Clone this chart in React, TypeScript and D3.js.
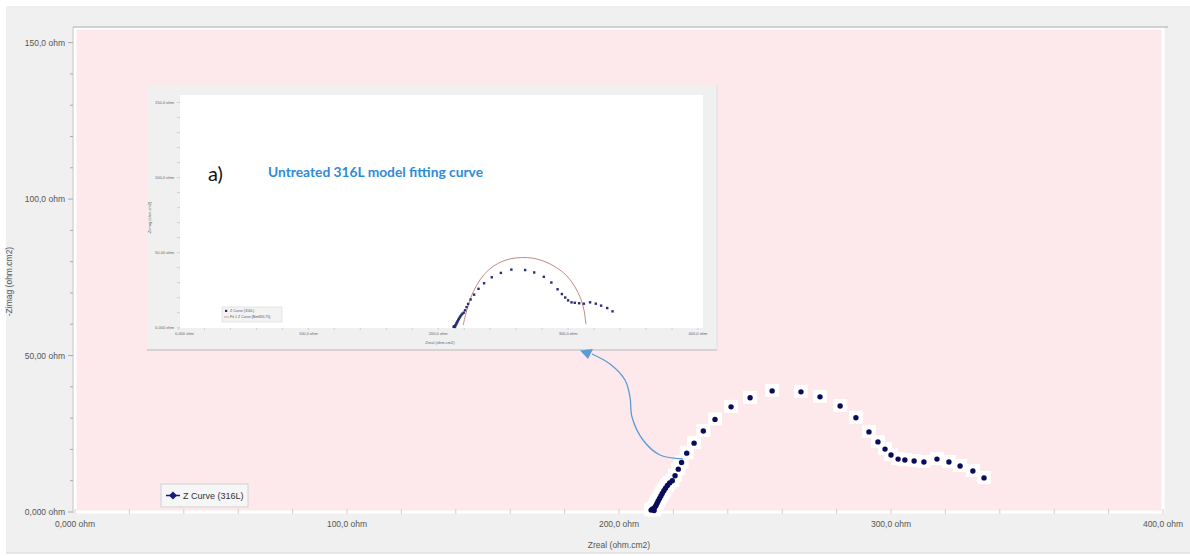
import React from 'react';
import * as d3 from 'd3';

// Z Curve (316L)
const zReal = [211.8, 212.3, 212.9, 213.2, 213.6, 214.0, 214.4, 214.9, 215.4, 215.9, 216.5, 217.1, 217.8, 218.6, 219.6,
    220.6, 221.8, 223.0, 224.9, 227.6, 231.0, 235.3, 241.2, 248.2, 256.3, 266.9, 273.9, 281.3, 287.1, 291.9, 295.2,
    297.8, 300.0, 302.6, 305.1, 308.5, 312.1, 316.9, 321.3, 325.4, 330.1, 334.2];
const zImag = [0.6, 1.0, 0.5, 1.5, 2.1, 2.8, 3.5, 4.3, 5.1, 5.9, 6.8, 7.6, 8.5, 9.3, 10.0,
    11.6, 13.7, 15.8, 18.8, 22.0, 25.9, 29.6, 33.6, 36.5, 38.7, 38.4, 36.8, 33.9, 30.1, 25.6, 22.4,
    20.1, 18.2, 16.9, 16.6, 16.3, 16.0, 16.9, 16.0, 14.7, 13.1, 10.9];

// Fit 1 Z Curve
const fitReal = [219.2, 221.0, 223.6, 227.0, 232.1, 238.5, 246.2, 255.2, 264.2, 273.1, 282.2, 291.1, 298.8, 305.2, 309.6, 312.2, 313.7];
const fitImag = [1.8, 8.5, 16.3, 24.0, 31.8, 38.3, 42.9, 45.8, 46.7, 46.3, 44.0, 40.0, 34.7, 27.3, 19.6, 11.8, 2.3];

const xTicks = [0, 100, 200, 300, 400];
const xTickLabels = ['0,000 ohm', '100,0 ohm', '200,0 ohm', '300,0 ohm', '400,0 ohm'];
const yTicks = [0, 50, 100, 150];
const yTickLabels = ['0,000 ohm', '50,00 ohm', '100,0 ohm', '150,0 ohm'];

const points = zReal.map((x, i) => ({ x, y: zImag[i] }));
const fit = fitReal.map((x, i) => ({ x, y: fitImag[i] }));

const FONT = '"Liberation Sans", Arial, sans-serif';

const App: React.FC = () => {
    // main chart scales
    const x = d3.scaleLinear().domain([0, 400]).range([75, 1163]);
    const y = d3.scaleLinear().domain([0, 155]).range([512, 27]);
    // inset scales
    const ix = d3.scaleLinear().domain([0, 400]).range([178.5, 698]);
    const iy = d3.scaleLinear().domain([0, 155]).range([327.7, 95]);

    const minorX = d3.range(0, 401, 20);
    const minorY = d3.range(0, 151, 10);

    const fitLine = d3.line<{ x: number; y: number }>()
        .x((d) => ix(d.x))
        .y((d) => iy(d.y))
        .curve(d3.curveCatmullRom);

    // annotation arrow: from a data point up to the inset
    const arrowStart: [number, number] = [x(223.6), y(17)];
    const arrowPts: [number, number][] = [
        arrowStart,
        [660, 455],
        [643, 440],
        [632, 417],
        [630, 397],
        [625, 380],
        [610, 364],
        [592, 354],
    ];
    const arrowPath = d3.line().curve(d3.curveCatmullRom)(arrowPts) || '';

    return (
        <svg width={1190} height={556} style={{ position: 'absolute', left: 0, top: 0, background: '#fff' }}>
            <rect x={6} y={6} width={1190} height={547} fill="#f0f0f0" />
            <line x1={6} x2={1190} y1={553} y2={553} stroke="#d4d4d4" />

            {/* plot area */}
            <rect x={75} y={28} width={1088} height={484} fill="#fde9eb" stroke="#fff" strokeWidth={3} />
            <line x1={73} x2={1168} y1={27} y2={27} stroke="#a8a8a8" strokeWidth={1} />
            <line x1={73} x2={73} y1={27} y2={513} stroke="#c8c8c8" strokeWidth={1} />

            {/* y axis */}
            {minorY.map((v) => (
                <line key={'my' + v} x1={v % 50 === 0 ? 68 : 70} x2={73} y1={y(v)} y2={y(v)} stroke="#aaa" />
            ))}
            {yTicks.map((v, i) => (
                <text key={'yl' + v} x={65} y={y(v) + 3} textAnchor="end" fontFamily={FONT} fontSize={8.5} fill="#555">
                    {yTickLabels[i]}
                </text>
            ))}
            <text transform={`translate(12,${(27 + 512) / 2 + 12}) rotate(-90)`} textAnchor="middle" fontFamily={FONT} fontSize={8.5} fill="#555">
                -Zimag (ohm.cm2)
            </text>

            {/* x axis */}
            {minorX.map((v) => (
                <line key={'mx' + v} x1={x(v)} x2={x(v)} y1={509} y2={514} stroke="#d0d0d0" />
            ))}
            {xTicks.map((v, i) => (
                <text key={'xl' + v} x={x(v)} y={527} textAnchor="middle" fontFamily={FONT} fontSize={8.5} fill="#555">
                    {xTickLabels[i]}
                </text>
            ))}
            <text x={(75 + 1163) / 2} y={548} textAnchor="middle" fontFamily={FONT} fontSize={8.5} fill="#555">
                Zreal (ohm.cm2)
            </text>

            {/* white halos around the points */}
            {points.map((d, i) => (
                <rect key={'h' + i} x={x(d.x) - 7} y={y(d.y) - 7} width={14} height={13} fill="#fff" />
            ))}
            {points.map((d, i) => (
                <circle key={'p' + i} cx={x(d.x)} cy={y(d.y)} r={2.7} fill="#0c0c5c" />
            ))}

            {/* legend */}
            <rect x={161} y={484} width={87} height={23} fill="#f6f6f6" stroke="#d2d2d2" />
            <line x1={166} x2={180} y1={495.5} y2={495.5} stroke="#1a1a7a" strokeWidth={1.5} />
            <path d="M173,491.5 L177,495.5 L173,499.5 L169,495.5 Z" fill="#1a1a7a" />
            <text x={183} y={499} fontFamily={FONT} fontSize={9} fill="#333">Z Curve (316L)</text>

            {/* inset */}
            <rect x={147} y={86} width={570} height={264} fill="#f0f0f0" />
            <line x1={147} x2={717} y1={350} y2={350} stroke="#b8b8b8" />
            <line x1={717} x2={717} y1={86} y2={350} stroke="#e0e0e0" />
            <rect x={180} y={95} width={523} height={233} fill="#fff" />
            {minorY.map((v) => (
                <line key={'imy' + v} x1={177} x2={180} y1={iy(v)} y2={iy(v)} stroke="#bbb" strokeWidth={0.6} />
            ))}
            {minorX.map((v) => (
                <line key={'imx' + v} x1={ix(v)} x2={ix(v)} y1={328} y2={330} stroke="#bbb" strokeWidth={0.6} />
            ))}
            {yTicks.map((v, i) => (
                <text key={'iyl' + v} x={174} y={iy(v) + 1.5} textAnchor="end" fontFamily={FONT} fontSize={4} fill="#666">
                    {yTickLabels[i]}
                </text>
            ))}
            {xTicks.map((v, i) => (
                <text key={'ixl' + v} x={ix(v) + (i === 0 ? 6 : 0)} y={334.5} textAnchor="middle" fontFamily={FONT} fontSize={4} fill="#666">
                    {xTickLabels[i]}
                </text>
            ))}
            <text x={440} y={344} textAnchor="middle" fontFamily={FONT} fontSize={4} fill="#666">Zreal (ohm.cm2)</text>
            <text transform="translate(151,218) rotate(-90)" textAnchor="middle" fontFamily={FONT} fontSize={4} fill="#666">
                -Zimag (ohm.cm2)
            </text>

            <path d={fitLine(fit) || ''} fill="none" stroke="#c98585" strokeWidth={1} />
            {points.map((d, i) => (
                <rect key={'ip' + i} x={ix(d.x) - 1.2} y={iy(d.y) - 1.2} width={2.4} height={2.4} fill="#2b2b78" />
            ))}

            <rect x={222} y={307} width={60} height={15} fill="#f3f3f3" stroke="#d8d8d8" strokeWidth={0.6} />
            <rect x={225} y={309.8} width={2.2} height={2.2} fill="#2b2b78" />
            <text x={230} y={312} fontFamily={FONT} fontSize={3.6} fill="#555">Z Curve (316L)</text>
            <line x1={224} x2={229} y1={317} y2={317} stroke="#c98585" strokeWidth={0.8} />
            <text x={230} y={318.2} fontFamily={FONT} fontSize={3.6} fill="#555">Fit 1 Z Curve [Bm6f5L75]</text>

            <text x={208} y={181} fontFamily='Lato, "Open Sans", sans-serif' fontSize={20} fill="#111">a)</text>
            <text x={268} y={177} fontFamily='Lato, "Open Sans", sans-serif' fontWeight="bold" fontSize={14}
                fill="#2f8bd8" textLength={215} lengthAdjust="spacingAndGlyphs">
                Untreated 316L model fitting curve
            </text>

            {/* arrow */}
            <path d={arrowPath} fill="none" stroke="#5b9bd5" strokeWidth={1.3} />
            <path d="M580,350.5 L593,349 L588,359 Z" fill="#5b9bd5" />
        </svg>
    );
};

export default App;
